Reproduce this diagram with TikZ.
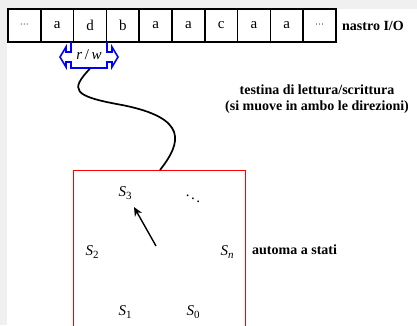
\documentclass[tikz,border=0pt]{standalone}
\usepackage{fontspec}
\setmainfont{Liberation Serif}
\usetikzlibrary{arrows.meta}
\newcommand\stt[1]{\textit{S}\raisebox{-0.45ex}{\fontsize{11}{11}\selectfont #1}}
\newcommand\tdots{{\fontsize{9}{9}\selectfont ···}}
\definecolor{bggray}{HTML}{F0F0F0}
\tikzset{
  cell/.style={draw, line width=1.6pt, minimum width=32.8pt, minimum height=33pt, inner sep=0pt, font=\fontsize{15}{17}\selectfont},
  lbl/.style={font=\fontsize{14}{16}\selectfont\bfseries, inner sep=0pt},
  st/.style={font=\fontsize{15}{17}\selectfont, inner sep=0pt},
}
\begin{document}
\begin{tikzpicture}[x=1pt,y=-1pt]
\useasboundingbox (0,0) rectangle (417,325);
\fill[bggray] (0,0) rectangle (417,325);
\fill[white] (7,9) rectangle (417,325);
% tape
\foreach \t [count=\i from 0] in {\tdots,a,d,b,a,a,c,a,a,\tdots}{
  \node[cell] (c\i) at ({8+32.8*(\i+0.5)},25.5) {\t};
}
\node[lbl, anchor=west] (tape) at (342,26) {nastro I/O};
% read/write head
\draw[blue, line width=1.6pt, line join=miter]
  (71,42) -- (71,52) -- (66,52) -- (66,47) -- (60,57) -- (66,67) -- (66,62) -- (71,62) -- (71,68)
  -- (107,68) -- (107,62) -- (112,62) -- (112,67) -- (118,57) -- (112,47) -- (112,52) -- (107,52) -- (107,42);
\node[st] (rw) at (89,55) {\textit{r}\,/\,\textit{w}};
\node[lbl, align=center] (head) at (317,99) {testina di lettura/scrittura\\(si muove in ambo le direzioni)};
% automaton box
\draw[red, line width=0.9pt] (73,340) -- (73,170) -- (245,170) -- (245,340);
\coordinate (hb) at (90,68.5);
\coordinate (bt) at (160,170);
\draw[line width=1.7pt] (hb) .. controls (70,90) and (72,96) .. (122,105)
  .. controls (188,118) and (182,142) .. (bt);
\node[st] (s3) at (125,193) {\stt{3}};
\node[st] (dd) at (193,196) {$\ddots$};
\node[st] (s2) at (92,252) {\stt{2}};
\node[st] (sn) at (227,252) {\stt{\textit{n}}};
\node[st] (s1) at (125,312) {\stt{1}};
\node[st] (s0) at (193,312) {\stt{0}};
\coordinate (a1) at (156,246);
\coordinate (a2) at (134,207);
\draw[line width=1.4pt, -{Stealth[length=9pt,width=8pt]}] (a1) -- (a2);
\node[lbl, anchor=west] (aut) at (252,250) {automa a stati};
\end{tikzpicture}
\end{document}
